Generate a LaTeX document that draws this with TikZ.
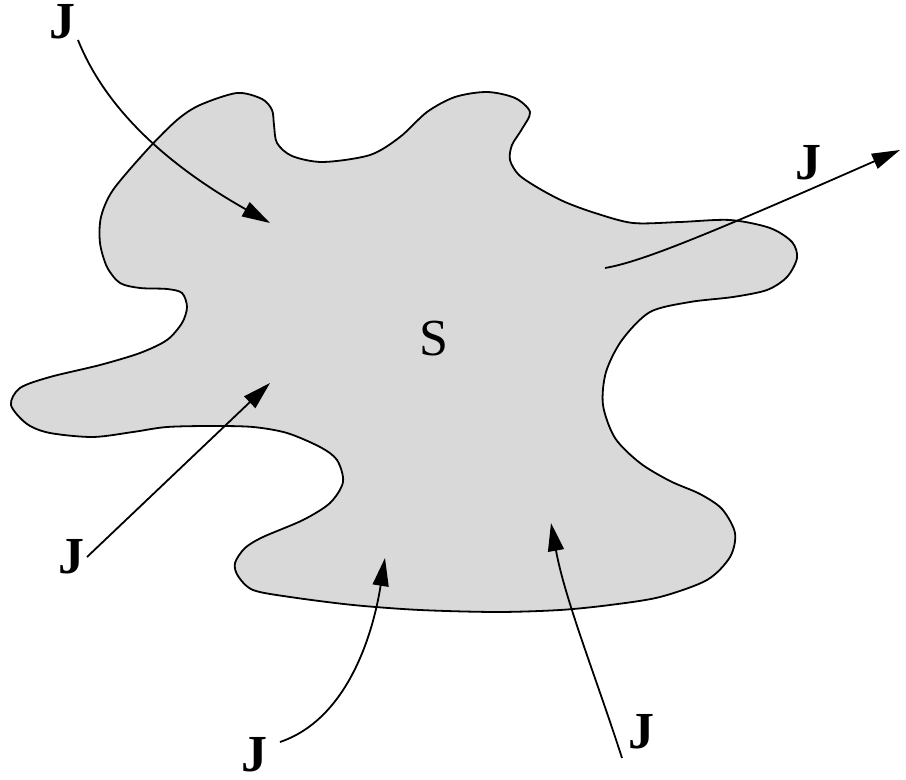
\documentclass[tikz,border=0pt]{standalone}
\usepackage{fontspec}
\setmainfont{Liberation Serif}
\usetikzlibrary{arrows.meta}
\definecolor{ink}{HTML}{000000}
\definecolor{blobfill}{HTML}{D9D9D9}

\begin{document}
\begin{tikzpicture}[
  x=0.5pt, y=-0.5pt,
  surface/.style={fill=blobfill, draw=ink, line width=0.9pt},
  flux/.style={-{Triangle[length=14pt,width=8pt]}, draw=ink, line width=0.9pt},
  jlabel/.style={font=\fontsize{26}{30}\selectfont\bfseries, inner sep=0pt, color=ink},
  slabel/.style={font=\fontsize{26}{30}\selectfont, inner sep=0pt, color=ink}
]

\useasboundingbox (0,0) rectangle (906,780);

% Surface S (pixel coordinates, y downwards)
\draw[surface] plot[smooth cycle, tension=0.5] coordinates {
  (101,217) (113,190) (147,150) (177,120) (200,105) (237,93) (262,99)
  (272,110) (274,125) (277,143) (292,156) (323,162) (370,155) (400,137)
  (427,112) (455,97) (487,92) (515,98) (530,112) (522,129) (512,145)
  (510,160) (519,175) (540,189) (565,202) (595,213) (633,223) (680,222)
  (730,220) (770,228) (792,242) (797,258) (787,277) (767,290) (733,297)
  (690,302) (650,312) (622,340) (606,372) (603,405) (615,438)
  (640,463) (670,481) (700,494) (722,509) (735,533) (730,557) (707,580)
  (660,597) (610,605) (560,610) (497,612) (420,610) (353,605) (290,597)
  (253,590) (238,576) (235,563) (245,548) (263,537) (303,520) (330,503)
  (343,482) (337,460) (320,447) (287,433) (253,427) (213,426) (167,427)
  (133,432) (93,437) (50,433) (27,424) (11,405) (20,388) (50,377)
  (100,365) (140,353) (167,340) (182,323) (187,307) (182,293) (167,289)
  (140,288) (120,283) (107,267) (100,243)
};

\node[slabel] (s) at (434,339) {S};

% Labels
\node[jlabel] (jtl) at (62,22)  {J};
\node[jlabel] (jr)  at (808,163) {J};
\node[jlabel] (jl)  at (71,557) {J};
\node[jlabel] (jbl) at (254,755) {J};
\node[jlabel] (jbr) at (641,732) {J};

% Arrow ends
\coordinate (tlfrom) at (78,40);
\coordinate (tlto)   at (270,223);
\coordinate (rfrom)  at (605,268);
\coordinate (rto)    at (900,150);
\coordinate (lfrom)  at (87,557);
\coordinate (lto)    at (270,383);
\coordinate (blfrom) at (280,742);
\coordinate (blto)   at (385,558);
\coordinate (brfrom) at (622,758);
\coordinate (brto)   at (551,523);

% Flux lines
\draw[flux] (tlfrom) .. controls (110,120) and (185,175) .. (tlto);
\draw[flux] (rfrom) .. controls (640,262) and (700,238) .. (rto);
\draw[flux] (lfrom) -- (lto);
\draw[flux] (blfrom) .. controls (345,720) and (372,640) .. (blto);
\draw[flux] (brfrom) .. controls (597,680) and (565,600) .. (brto);

\end{tikzpicture}
\end{document}
